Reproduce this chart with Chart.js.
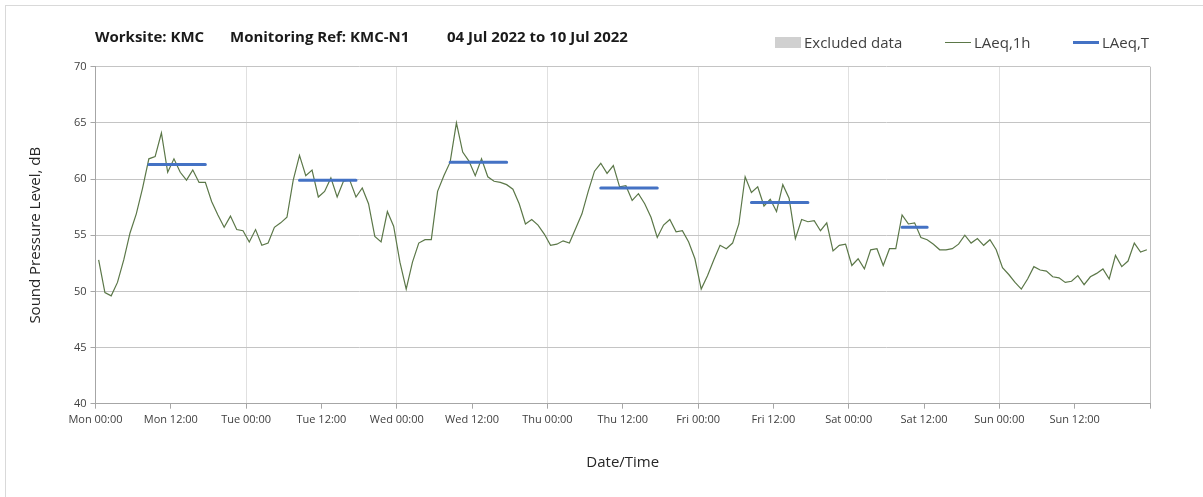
<!DOCTYPE html>
<html>
<head>
<meta charset="utf-8">
<script src="https://cdn.jsdelivr.net/npm/chart.js@4/dist/chart.umd.min.js"></script>
<style>
  body { margin: 0; background: #fff; }
  #wrap { position: relative; width: 1203px; height: 497px; overflow: hidden; }
  #frame { position: absolute; left: 5px; top: 5px; width: 1300px; height: 600px;
           border-top: 1px solid #d9d9d9; border-left: 1px solid #d9d9d9; }
  .ttl { position: absolute; top: 26px; font: bold 15px "Open Sans", sans-serif;
         color: #1a1a1a; white-space: pre; }
  .leg { position: absolute; top: 32px; font: 15px "Open Sans", sans-serif; color: #404040;
         display: flex; align-items: center; white-space: pre; }
  .sw { display: inline-block; margin-right: 3px; }
  canvas { position: absolute; left: 0; top: 0; }
</style>
</head>
<body>
<div id="wrap">
  <div id="frame"></div>
  <canvas id="noiseChart" width="1203" height="497"></canvas>
  <div class="ttl" style="left:95px">Worksite: KMC</div>
  <div class="ttl" style="left:230px">Monitoring Ref: KMC-N1</div>
  <div class="ttl" style="left:447px">04 Jul 2022 to 10 Jul 2022</div>
  <div class="leg" style="left:775px"><span class="sw" style="width:26px;height:11px;background:#d0d0d0"></span>Excluded data</div>
  <div class="leg" style="left:945px"><span class="sw" style="width:26px;height:1px;background:#5b7748"></span>LAeq,1h</div>
  <div class="leg" style="left:1073px"><span class="sw" style="width:26px;height:3px;background:#4472c4"></span>LAeq,T</div>
</div>
<script>
  // hourly LAeq,1h readings, Mon 00:00 -> Sun 23:00
  const laeq1h = [
    52.8, 49.9, 49.6, 50.8, 52.8, 55.2, 56.9, 59.2, 61.8, 62.0, 64.1, 60.6,
    61.8, 60.6, 59.9, 60.8, 59.7, 59.7, 58.0, 56.8, 55.7, 56.7, 55.5, 55.4,
    54.4, 55.5, 54.1, 54.3, 55.7, 56.1, 56.6, 59.9, 62.1, 60.3, 60.8, 58.4,
    58.9, 60.1, 58.4, 59.8, 59.9, 58.4, 59.2, 57.8, 54.9, 54.4, 57.1, 55.8,
    52.6, 50.2, 52.6, 54.3, 54.6, 54.6, 58.9, 60.3, 61.5, 65.0, 62.4, 61.6,
    60.3, 61.8, 60.2, 59.8, 59.7, 59.5, 59.1, 57.8, 56.0, 56.4, 55.9, 55.1,
    54.1, 54.2, 54.5, 54.3, 55.6, 56.9, 58.9, 60.7, 61.4, 60.5, 61.2, 59.3,
    59.4, 58.1, 58.7, 57.8, 56.6, 54.8, 55.9, 56.4, 55.3, 55.4, 54.4, 52.9,
    50.2, 51.4, 52.8, 54.1, 53.8, 54.3, 56.0, 60.2, 58.8, 59.3, 57.6, 58.2,
    57.1, 59.5, 58.3, 54.7, 56.4, 56.2, 56.3, 55.4, 56.1, 53.6, 54.1, 54.2,
    52.3, 52.9, 52.0, 53.7, 53.8, 52.3, 53.8, 53.8, 56.8, 56.0, 56.1, 54.8,
    54.6, 54.2, 53.7, 53.7, 53.8, 54.2, 55.0, 54.3, 54.7, 54.1, 54.6, 53.7,
    52.1, 51.5, 50.8, 50.2, 51.1, 52.2, 51.9, 51.8, 51.3, 51.2, 50.8, 50.9,
    51.4, 50.6, 51.3, 51.6, 52.0, 51.1, 53.2, 52.2, 52.7, 54.3, 53.5, 53.7
  ];

  // daytime LAeq,T periods (hour centres, from start of week)
  const tStart = [8.5, 32.5, 56.5, 80.5, 104.5, 128.5];
  const tEnd   = [17.5, 41.5, 65.5, 89.5, 113.5, 132.5];
  const tLevel = [61.3, 59.9, 61.5, 59.2, 57.9, 55.7];

  const dayNames = ["Mon", "Tue", "Wed", "Thu", "Fri", "Sat", "Sun"];
  const yTicks = [40, 45, 50, 55, 60, 65, 70];

  const hourlyPts = laeq1h.map((v, i) => ({ x: i + 0.5, y: v }));
  const periodPts = [];
  tLevel.forEach((lv, i) => {
    periodPts.push({ x: tStart[i], y: lv }, { x: tEnd[i], y: lv }, { x: tEnd[i] + 0.5, y: null });
  });

  const font = { family: "'Open Sans', sans-serif", size: 11 };

  new Chart(document.getElementById("noiseChart"), {
    type: "line",
    data: {
      datasets: [
        { label: "LAeq,T", data: periodPts, borderColor: "#4472c4", borderWidth: 3,
          borderCapStyle: "round", pointRadius: 0, spanGaps: false, order: 0 },
        { label: "LAeq,1h", data: hourlyPts, borderColor: "#5b7748", borderWidth: 1.2,
          pointRadius: 0, tension: 0, order: 1 }
      ]
    },
    options: {
      responsive: false,
      animation: false,
      layout: { padding: { top: 66.7, right: 53, left: 0, bottom: 0 } },
      plugins: { legend: { display: false }, tooltip: { enabled: false } },
      scales: {
        x: {
          type: "linear", min: 0, max: 168,
          afterFit: s => { s.height = 93.3; },
          ticks: {
            stepSize: 12, autoSkip: false, maxRotation: 0, padding: 5,
            color: "#404040", font,
            callback: v => v >= 168 ? "" : dayNames[Math.floor(v / 24)] + (v % 24 === 0 ? " 00:00" : " 12:00")
          },
          grid: {
            color: c => {
              const v = c.tick ? c.tick.value : 0;
              if (v === 168) return "#bfbfbf";
              return v % 24 === 0 ? "#e0e0e0" : "rgba(0,0,0,0)";
            },
            tickColor: "#a6a6a6", tickLength: 5
          },
          border: { color: "#a6a6a6" },
          title: { display: true, text: "Date/Time", color: "#262626",
                   font: { family: "'Open Sans', sans-serif", size: 15 }, padding: { top: 0, bottom: 25 } }
        },
        y: {
          min: 40, max: 70,
          afterFit: s => { s.width = 95.5; },
          afterBuildTicks: s => { s.ticks = yTicks.map(v => ({ value: v })); },
          ticks: { color: "#404040", font, padding: 4 },
          grid: { color: "#c4c4c4", tickColor: "#a6a6a6", tickLength: 5 },
          border: { color: "#a6a6a6" },
          title: { display: true, text: "Sound Pressure Level, dB", color: "#262626",
                   font: { family: "'Open Sans', sans-serif", size: 15 }, padding: { top: 27, bottom: 0 } }
        }
      }
    }
  });
</script>
</body>
</html>
